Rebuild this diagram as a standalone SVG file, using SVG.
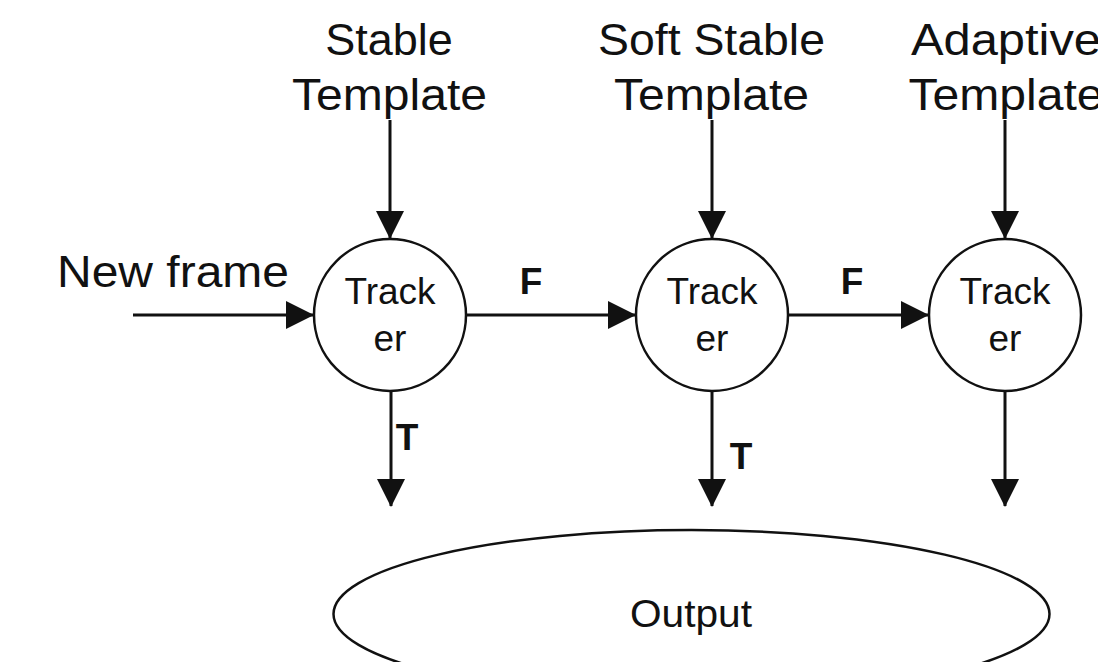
<svg xmlns="http://www.w3.org/2000/svg" width="1098" height="662" viewBox="0 0 1098 662">
<style>
.lbl{font-family:"Liberation Sans",Arial,sans-serif;fill:#111;text-anchor:middle}
.big{font-size:45px}
.mid{font-size:37px}
.bold{font-size:37px;font-weight:bold}
.node{fill:#fff;stroke:#111;stroke-width:2.5}
.edge{stroke:#111;stroke-width:3;fill:none;marker-end:url(#ah)}
</style>
<defs>
<marker id="ah" markerUnits="userSpaceOnUse" markerWidth="28" markerHeight="28" refX="27" refY="14" orient="auto">
<path d="M0,0 L28,14 L0,28 z" fill="#111"/>
</marker>
</defs>
<rect width="1098" height="662" fill="#fff"/>
<g id="labels-top">
<text class="lbl big" x="389" y="55">Stable</text>
<text class="lbl big" x="389.5" y="110" textLength="195" lengthAdjust="spacingAndGlyphs">Template</text>
<text class="lbl big" x="711.5" y="55" textLength="227" lengthAdjust="spacingAndGlyphs">Soft Stable</text>
<text class="lbl big" x="711.5" y="110" textLength="195" lengthAdjust="spacingAndGlyphs">Template</text>
<text class="lbl big" x="1006" y="55" textLength="190" lengthAdjust="spacingAndGlyphs">Adaptive</text>
<text class="lbl big" x="1006" y="110" textLength="195" lengthAdjust="spacingAndGlyphs">Template</text>
<text class="lbl big" x="173" y="287" textLength="232" lengthAdjust="spacingAndGlyphs">New frame</text>
</g>
<g id="connectors">
<line class="edge" x1="390" y1="120" x2="390" y2="238"/>
<line class="edge" x1="712" y1="120" x2="712" y2="238"/>
<line class="edge" x1="1005" y1="120" x2="1005" y2="238"/>
<line class="edge" x1="133" y1="315" x2="313" y2="315"/>
<line class="edge" x1="467" y1="315" x2="635" y2="315"/>
<line class="edge" x1="789" y1="315" x2="928" y2="315"/>
<line class="edge" x1="391" y1="392" x2="391" y2="506"/>
<line class="edge" x1="712" y1="392" x2="712" y2="506"/>
<line class="edge" x1="1005" y1="392" x2="1005" y2="506"/>
<text class="lbl bold" x="531" y="294">F</text>
<text class="lbl bold" x="852" y="294">F</text>
<text class="lbl bold" x="407" y="450">T</text>
<text class="lbl bold" x="741" y="469">T</text>
</g>
<g id="tracker1">
<circle class="node" cx="390" cy="315" r="76"/>
<text class="lbl mid" x="390" y="304">Track</text>
<text class="lbl mid" x="390" y="351">er</text>
</g>
<g id="tracker2">
<circle class="node" cx="712" cy="315" r="76"/>
<text class="lbl mid" x="712" y="304">Track</text>
<text class="lbl mid" x="712" y="351">er</text>
</g>
<g id="tracker3">
<circle class="node" cx="1005" cy="315" r="76"/>
<text class="lbl mid" x="1005" y="304">Track</text>
<text class="lbl mid" x="1005" y="351">er</text>
</g>
<g id="output">
<ellipse class="node" cx="691.5" cy="614" rx="358" ry="84"/>
<text class="lbl" style="font-size:38px" x="691" y="627" textLength="122" lengthAdjust="spacingAndGlyphs">Output</text>
</g>
</svg>
